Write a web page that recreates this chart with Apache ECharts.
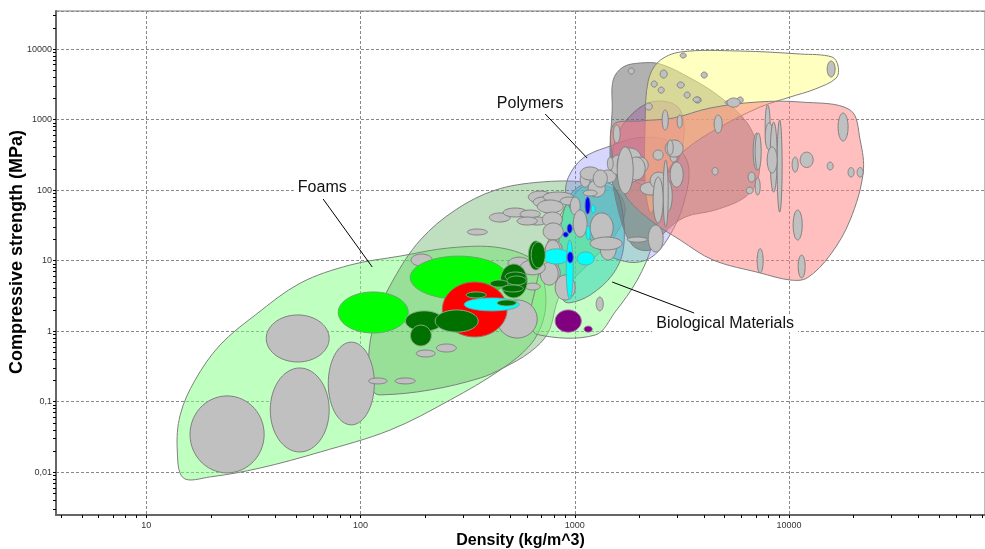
<!DOCTYPE html>
<html>
<head>
<meta charset="utf-8">
<script src="https://cdn.jsdelivr.net/npm/echarts@6/dist/echarts.min.js"></script>
<style>
  html, body { margin: 0; padding: 0; background: #fff; }
  #chart { width: 985px; height: 549px; }
</style>
</head>
<body>
<div id="chart"></div>
<script>
// Axis ranges: density in kg/m^3, compressive strength in MPa
const densityRange = [3.79, 82150];
const strengthRange = [0.00248, 34600];
const densityMinorTicks = [4, 5, 6, 7, 8, 9, 20, 30, 40, 50, 60, 70, 80, 90,
  200, 300, 400, 500, 600, 700, 800, 900, 2000, 3000, 4000, 5000, 6000, 7000, 8000, 9000,
  20000, 30000, 40000, 50000, 60000, 70000, 80000];
const strengthMinorTicks = [0.003, 0.004, 0.005, 0.006, 0.007, 0.008, 0.009,
  0.02, 0.03, 0.04, 0.05, 0.06, 0.07, 0.08, 0.09, 0.2, 0.3, 0.4, 0.5, 0.6, 0.7, 0.8, 0.9,
  2, 3, 4, 5, 6, 7, 8, 9, 20, 30, 40, 50, 60, 70, 80, 90, 200, 300, 400, 500, 600, 700, 800, 900,
  2000, 3000, 4000, 5000, 6000, 7000, 8000, 9000, 20000, 30000];

// Family envelopes, outlines as [density, strength]
const envFoams = [[14.9, 0.0083], [13.95, 0.0207], [14.4, 0.065], [16.9, 0.203], [22.1, 0.637],
  [32.3, 1.7], [52.3, 4.8], [89.5, 8.68], [153, 11.6], [262, 15.2], [449, 15.2], [654, 9.55],
  [728, 3.84], [712, 1.44], [619, 0.637], [449, 0.282], [262, 0.106], [137.6, 0.0398], [64.9, 0.0194],
  [34, 0.0115], [19.9, 0.0086]];
const envNatural = [[115, 0.14], [109, 0.391], [117, 1.44], [142, 5.32], [190, 19.6], [277, 52.2],
  [425, 100], [690, 130], [1118, 130], [1544, 100], [1719, 52.2], [1544, 23.1], [1180, 9.55],
  [855, 3.26], [751, 0.95], [619, 0.507], [463, 0.301], [362, 0.217], [211.5, 0.147], [123.6, 0.125]];
const envBiological = [[668, 0.9], [1245, 0.883], [1544, 1.88], [1957, 5.32], [2300, 16.7],
  [2423, 44.4], [2201, 100], [1629, 150], [1118, 118], [855, 44.4], [728, 14.2], [653, 3.84], [619, 1.44]];
const envTissue = [[883, 2.77], [837, 7.37], [855, 27.2], [952, 85.2], [1180, 130], [1495, 118],
  [1665, 52.2], [1682, 14.2], [1495, 6.26], [1180, 3.26], [952, 2.53]];
const envPolymers = [[932, 150], [1094, 285], [1463, 421], [2020, 557], [2788, 481], [3386, 227],
  [3205, 61.5], [2730, 21], [2249, 10.9], [1777, 9.55], [1314, 14.2], [1037, 36.5], [912, 77.3]];
const envComposites = [[1495, 227], [1544, 513], [1777, 1052], [2201, 1716], [2730, 1770],
  [3104, 1366], [3240, 711], [3040, 267], [2503, 150], [1914, 139], [1595, 164]];
const envCeramics = [[1495, 1366], [1511, 3636], [1682, 5558], [2020, 6333], [2503, 6129],
  [3455, 3882], [4770, 2088], [6374, 895], [7173, 370], [7173, 148], [6241, 79.8], [4521, 52.2],
  [3275, 41.6], [2642, 25.6], [2249, 14.2], [1854, 16.7], [1595, 52.2], [1463, 267]];
const envTechCeramics = [[2201, 3519], [2450, 6543], [3104, 9066], [5913, 9367], [11270, 8495],
  [15870, 7702], [16940, 5742], [16590, 3882], [13240, 2711], [10120, 2088], [7333, 1506],
  [4770, 784], [3275, 370], [2642, 164], [2373, 61.5], [2249, 47.4], [2131, 118], [2131, 985]];
const envMetals = [[1511, 837], [2020, 953], [2879, 1052], [4283, 1458], [7099, 1773], [11270, 1773],
  [19280, 1366], [21470, 513], [22180, 175], [19280, 37.7], [15550, 12], [12150, 5.7], [10120, 5.32],
  [7333, 6.7], [4423, 10.2], [3104, 19.6], [2249, 37.7], [1719, 85.2], [1511, 267]];

// Individual materials: [densityLow, densityHigh, strengthLow, strengthHigh]
const greyMaterials = [
  [16, 35.5, 0.0098, 0.121], [37.9, 71.4, 0.0194, 0.301], [36.3, 71.4, 0.366, 1.70], [70.7, 116, 0.047, 0.70],
  [109, 133, 0.179, 0.217], [145, 180, 0.179, 0.217], [434, 668, 0.80, 2.77], [315, 390, 23.1, 28.1],
  [172, 216, 8.4, 12.4], [182, 223, 0.431, 0.541], [226, 280, 0.507, 0.658], [399, 500, 35.3, 47.4],
  [463, 600, 41.6, 55.7], [556, 690, 40.2, 52.2], [600, 743, 32, 41.6], [607, 785, 65.7, 97],
  [639, 793, 57.6, 79.8], [712, 983, 67.8, 94], [488, 619, 7.37, 11.2], [587, 690, 3.84, 4.8],
  [705, 855, 4.8, 9.3], [538, 668, 32, 41.6], [668, 883, 47.4, 72.4], [705, 874, 30, 48.9],
  [712, 883, 19.6, 34.2], [728, 874, 10.2, 19.6], [855, 1026, 61.5, 79.8], [952, 1060, 44.4, 79.8],
  [983, 1142, 21.6, 52.2], [1180, 1511, 18.3, 47.4], [1314, 1561, 10.2, 21.6], [1180, 1665, 14.2, 21.6],
  [1757, 2177, 18.3, 21.6], [2201, 2585, 13.3, 32], [1060, 1180, 110, 180], [1154, 1387, 79.8, 139],
  [1314, 1561, 127, 193], [1463, 1757, 164, 315], [1578, 2086, 130, 395], [1854, 2201, 175, 294],
  [1682, 1976, 130, 175], [2020, 2556, 85.2, 130], [2249, 2700, 104, 180], [2556, 2850, 48.9, 139],
  [2788, 3005, 250, 340], [2642, 3205, 294, 513], [2320, 2585, 267, 370], [1777, 1894, 4423, 5380],
  [2503, 2700, 3882, 5040], [2273, 2423, 2890, 3519], [2450, 2614, 2374, 2890], [3006, 3240, 2797, 3406],
  [3240, 3455, 2021, 2458], [3606, 3890, 1716, 2088], [3890, 4152, 3882, 4722], [3104, 3311, 7457, 8774],
  [5033, 5790, 1608, 1893], [5727, 6110, 1716, 2088], [15070, 16410, 4010, 6760], [2131, 2300, 1366, 1716],
  [4472, 4873, 645, 1160], [7737, 8162, 420, 1608], [6800, 7333, 193, 645], [7737, 8430, 370, 895],
  [8162, 8800, 94, 920], [8800, 9285, 48.9, 985], [7906, 8800, 175, 410], [6440, 6947, 130, 180],
  [4375, 4665, 164, 209], [6308, 6800, 89, 110], [6947, 7333, 85, 150], [10450, 11520, 19.6, 52.2],
  [11270, 12960, 209, 345], [10340, 11030, 180, 294], [15070, 16060, 193, 250], [16940, 18860, 497, 1238],
  [1511, 1629, 467, 837], [2556, 2730, 711, 1366], [3006, 3172, 757, 1160], [2700, 2880, 314, 513],
  [2585, 2730, 30, 267], [2788, 3205, 110, 250], [2320, 2585, 34.2, 153], [1757, 2131, 139, 294],
  [1578, 1874, 89, 410], [1419, 1511, 193, 294], [18860, 20120, 153, 209], [20790, 22180, 153, 209],
  [11030, 11890, 5.7, 12], [7099, 7571, 6.7, 14.8], [5140, 5913, 1500, 2020], [3566, 3848, 1770, 2088],
  [6947, 7412, 193, 645], [1259, 1358, 1.94, 3.05], [1060, 1314, 139, 213], [1219, 1419, 110, 193],
  [1095, 1272, 82.5, 100], [728, 855, 9.7, 19.6], [690, 837, 4.5, 9.5], [556, 728, 6.3, 10.2],
  [810, 1004, 2.77, 6.26]
];
const limeMaterials = [[78.7, 167, 0.943, 3.6], [170.6, 483, 2.86, 11.6]];
const redMaterials = [[241, 483, 0.83, 4.98]];
const cyanMaterials = [[305, 550, 1.94, 2.96], [712, 942, 8.97, 14.7], [1026, 1232, 8.68, 13.3],
  [912, 983, 2.86, 19.6], [1130, 1180, 19.6, 31], [1193, 1245, 47.4, 61.5]];
const darkGreenMaterials = [[162, 243, 1.0, 1.94], [223, 354, 0.97, 2.0], [171, 214, 0.617, 1.22],
  [311, 386, 2.96, 3.6], [434, 533, 2.28, 2.77], [449, 600, 2.96, 8.97], [473, 593, 5.15, 6.9],
  [483, 593, 4.52, 6.06], [403, 488, 4.22, 5.32], [458, 575, 3.6, 4.52], [607, 712, 7.37, 19],
  [626, 728, 7.9, 18.3]];
const blueMaterials = [[1118, 1180, 45.9, 79.8], [922, 972, 24.6, 33], [883, 932, 21.6, 25.4], [922, 983, 9.3, 13.3]];
const purpleMaterials = [[810, 1072, 0.97, 2.0], [1106, 1206, 0.97, 1.18]];

// Callouts: label anchor and leader line ends, in data units
const callouts = [
  { text: 'Foams', label: [66.3, 110], from: [66.9, 74.8], to: [113.4, 8.13] },
  { text: 'Polymers', label: [619, 1661], from: [728, 1199], to: [1142, 285] },
  { text: 'Biological Materials', label: [5033, 1.30], from: [3607, 1.81], to: [1495, 4.98] }
];

const FONT = '"Liberation Sans", Arial, sans-serif';
const log10 = Math.log10;

const envelopeLayers = [
  { pts: envFoams, fill: 'rgba(128,255,128,0.5)' },
  { pts: envNatural, fill: 'rgba(90,170,90,0.38)' },
  { pts: envBiological, fill: 'rgba(128,255,128,0.45)' },
  { pts: envTissue, fill: 'rgba(40,210,180,0.5)' },
  { pts: envPolymers, fill: 'rgba(120,120,255,0.3)' },
  { pts: envComposites, fill: 'rgba(220,80,220,0.45)' },
  { pts: envCeramics, fill: 'rgba(100,100,100,0.5)' },
  { pts: envTechCeramics, fill: 'rgba(255,255,128,0.5)' },
  { pts: envMetals, fill: 'rgba(255,128,128,0.5)' }
];

function envelopeSeries() {
  return {
    type: 'custom',
    coordinateSystem: 'cartesian2d',
    silent: true,
    clip: true,
    z: 2,
    data: envelopeLayers.map(e => e.pts[0]),
    renderItem(params, api) {
      const e = envelopeLayers[params.dataIndex];
      return {
        type: 'polygon',
        shape: { points: e.pts.map(p => api.coord(p)), smooth: 0.35 },
        style: { fill: e.fill, stroke: '#7f7f7f', lineWidth: 1 }
      };
    }
  };
}

function ellipsePoints(b, api) {
  const cx = (log10(b[0]) + log10(b[1])) / 2, rx = (log10(b[1]) - log10(b[0])) / 2;
  const cy = (log10(b[2]) + log10(b[3])) / 2, ry = (log10(b[3]) - log10(b[2])) / 2;
  const pts = [];
  for (let k = 0; k < 60; k++) {
    const t = (k / 60) * Math.PI * 2;
    pts.push(api.coord([Math.pow(10, cx + rx * Math.cos(t)), Math.pow(10, cy + ry * Math.sin(t))]));
  }
  return pts;
}

function bubbleSeries(list, fill, stroke, z) {
  return {
    type: 'custom',
    coordinateSystem: 'cartesian2d',
    silent: true,
    clip: true,
    z: z,
    data: list.map(b => [Math.sqrt(b[0] * b[1]), Math.sqrt(b[2] * b[3])]),
    renderItem(params, api) {
      return {
        type: 'polygon',
        shape: { points: ellipsePoints(list[params.dataIndex], api) },
        style: { fill: fill, stroke: stroke, lineWidth: 1 }
      };
    }
  };
}

const calloutSeries = {
  type: 'custom',
  coordinateSystem: 'cartesian2d',
  silent: true,
  clip: false,
  z: 20,
  data: callouts.map(c => c.label),
  renderItem(params, api) {
    const c = callouts[params.dataIndex];
    const a = api.coord(c.from), b = api.coord(c.to), l = api.coord(c.label);
    return {
      type: 'group',
      children: [
        { type: 'line', shape: { x1: a[0], y1: a[1], x2: b[0], y2: b[1] }, style: { stroke: '#000', lineWidth: 1 } },
        { type: 'text', x: l[0], y: l[1], style: {
            text: c.text, fill: '#111', font: '16px ' + FONT, align: 'center', verticalAlign: 'middle',
            backgroundColor: '#fff', padding: [1, 4] } }
      ]
    };
  }
};

const chart = echarts.init(document.getElementById('chart'), null, { renderer: 'canvas' });
chart.setOption({
  animation: false,
  backgroundColor: '#fff',
  grid: { left: 56, right: 0, top: 11, bottom: 34, containLabel: false, outerBoundsMode: 'none',
    show: true, borderColor: '#7a7a7a', borderWidth: 1 },
  xAxis: [{
    type: 'log', logBase: 10, min: densityRange[0], max: densityRange[1],
    name: 'Density (kg/m^3)', nameLocation: 'middle', nameGap: 18, nameMoveOverlap: false,
    nameTextStyle: { fontSize: 16, fontWeight: 'bold', color: '#000', fontFamily: FONT },
    axisLine: { show: true, onZero: false, lineStyle: { color: '#666', width: 2 } },
    axisTick: { show: true, length: 3, lineStyle: { color: '#000' } },
    axisLabel: { fontSize: 9, color: '#333', fontFamily: FONT, margin: 6,
      showMinLabel: false, showMaxLabel: false, formatter: v => String(v) },
    splitLine: { show: true, lineStyle: { color: '#888', type: [3, 2], width: 1 } }
  }, {
    type: 'value', position: 'bottom', min: log10(densityRange[0]), max: log10(densityRange[1]),
    axisLine: { show: false, onZero: false }, axisLabel: { show: false }, splitLine: { show: false },
    axisTick: { show: true, length: 3, customValues: densityMinorTicks.map(log10), lineStyle: { color: '#000' } }
  }],
  yAxis: [{
    type: 'log', logBase: 10, min: strengthRange[0], max: strengthRange[1],
    name: 'Compressive strength (MPa)', nameLocation: 'middle', nameGap: 30, nameMoveOverlap: false,
    nameTextStyle: { fontSize: 18, fontWeight: 'bold', color: '#000', fontFamily: FONT, padding: [0, 0, 0, 22] },
    axisLine: { show: true, onZero: false, lineStyle: { color: '#666', width: 2 } },
    axisTick: { show: true, length: 3, lineStyle: { color: '#000' } },
    axisLabel: { fontSize: 9, color: '#333', fontFamily: FONT, margin: 4,
      showMinLabel: false, showMaxLabel: false, formatter: v => String(v).replace('.', ',') },
    splitLine: { show: true, lineStyle: { color: '#888', type: [3, 2], width: 1 } }
  }, {
    type: 'value', position: 'left', min: log10(strengthRange[0]), max: log10(strengthRange[1]),
    axisLine: { show: false, onZero: false }, axisLabel: { show: false }, splitLine: { show: false },
    axisTick: { show: true, length: 3, customValues: strengthMinorTicks.map(log10), lineStyle: { color: '#000' } }
  }],
  series: [
    envelopeSeries(),
    bubbleSeries(greyMaterials, '#c0c0c0', '#808080', 3),
    bubbleSeries(limeMaterials, '#00ff00', '#66aa66', 4),
    bubbleSeries(redMaterials, '#ff0000', '#aa6666', 5),
    bubbleSeries(cyanMaterials, '#00ffff', '#66aaaa', 6),
    bubbleSeries(darkGreenMaterials, '#007000', '#88b088', 7),
    bubbleSeries(blueMaterials, '#0000ff', '#6666aa', 8),
    bubbleSeries(purpleMaterials, '#800080', '#aa66aa', 9),
    calloutSeries
  ]
});
</script>
</body>
</html>
